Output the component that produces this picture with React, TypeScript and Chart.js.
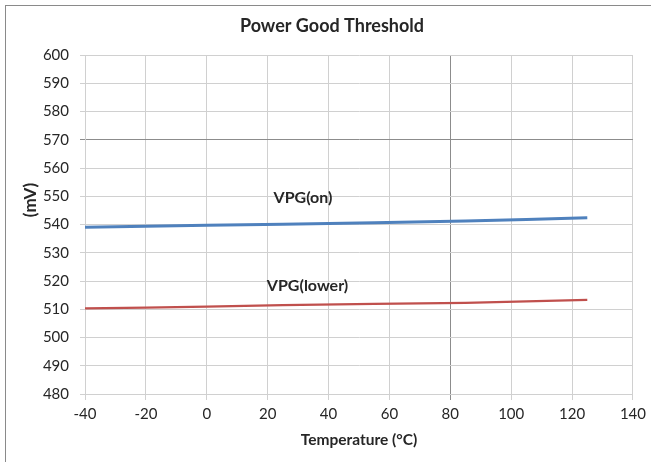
import React, { useEffect, useRef } from "react";
import { Chart, registerables } from "chart.js";

Chart.register(...registerables);

const temperatures = [-40, 0, 25, 85, 125];
const vpgOn = [539.0, 539.7, 540.1, 541.2, 542.4];
const vpgLower = [510.3, 510.9, 511.5, 512.3, 513.3];
const xTicks = [-40, -20, 0, 20, 40, 60, 80, 100, 120, 140];
const yTicks = [480, 490, 500, 510, 520, 530, 540, 550, 560, 570, 580, 590, 600];
const seriesLabels = [
  { text: "VPG(on)", x: 31.6, y: 549.6 },
  { text: "VPG(lower)", x: 33.1, y: 518.2 },
];
const chartTitle = "Power Good Threshold";
const yTitle = "(mV)";
const xTitle = "Temperature (°C)";

const FONT = "Lato, 'Open Sans', 'Liberation Sans', sans-serif";
const TEXT = "#262626";

export default function App() {
  const ref = useRef<HTMLCanvasElement | null>(null);

  useEffect(() => {
    if (!ref.current) return;
    const labelPlugin = {
      id: "seriesLabels",
      afterDraw(chart: any) {
        const { ctx, scales } = chart;
        ctx.save();
        ctx.fillStyle = TEXT;
        ctx.textAlign = "center";
        ctx.textBaseline = "middle";
        ctx.font = `bold 18px ${FONT}`;
        ctx.fillText(chartTitle, 332, 26);
        ctx.font = `bold 16px ${FONT}`;
        for (const l of seriesLabels) {
          ctx.fillText(l.text, scales.x.getPixelForValue(l.x), scales.y.getPixelForValue(l.y));
        }
        ctx.translate(31, 200);
        ctx.rotate(-Math.PI / 2);
        ctx.font = `bold 17px ${FONT}`;
        ctx.fillText(yTitle, 0, 0);
        ctx.restore();
      },
    };

    const chart = new Chart(ref.current, {
      type: "line",
      data: {
        datasets: [
          {
            label: "VPG(on)",
            data: temperatures.map((t, i) => ({ x: t, y: vpgOn[i] })),
            borderColor: "#4F81BD",
            borderWidth: 3,
            pointRadius: 0,
            tension: 0.3,
          },
          {
            label: "VPG(lower)",
            data: temperatures.map((t, i) => ({ x: t, y: vpgLower[i] })),
            borderColor: "#C0504D",
            borderWidth: 2.25,
            pointRadius: 0,
            tension: 0.3,
          },
        ],
      },
      plugins: [labelPlugin],
      options: {
        responsive: false,
        animation: false,
        devicePixelRatio: 1,
        layout: { padding: { left: 0, right: 18, top: 55, bottom: 0 } },
        plugins: {
          legend: { display: false },
          tooltip: { enabled: false },
          title: { display: false },
        },
        scales: {
          x: {
            type: "linear",
            min: xTicks[0],
            max: xTicks[xTicks.length - 1],
            afterBuildTicks: (s: any) => {
              s.ticks = xTicks.map((v) => ({ value: v }));
            },
            afterFit: (s: any) => {
              s.height = 68;
            },
            ticks: {
              color: TEXT,
              font: { family: FONT, size: 15 },
              padding: 5,
              maxRotation: 0,
              autoSkip: false,
            },
            grid: {
              color: (c: any) => (c.tick && c.tick.value === 80 ? "#8c8c8c" : "#d0d0d0"),
              tickLength: 6,
              lineWidth: 1,
            },
            border: { color: "#d0d0d0", width: 1 },
            title: {
              display: true,
              text: xTitle,
              color: TEXT,
              font: { family: FONT, size: 15.5, weight: "bold" },
              padding: { top: 0, bottom: 12.7 },
            },
          },
          y: {
            type: "linear",
            min: yTicks[0],
            max: yTicks[yTicks.length - 1],
            afterBuildTicks: (s: any) => {
              s.ticks = yTicks.map((v) => ({ value: v }));
            },
            afterFit: (s: any) => {
              s.width = 85;
            },
            ticks: {
              color: TEXT,
              font: { family: FONT, size: 15 },
              padding: 11,
              autoSkip: false,
            },
            grid: {
              color: (c: any) => (c.tick && c.tick.value === 570 ? "#8c8c8c" : "#d0d0d0"),
              tickLength: 5,
              lineWidth: 1,
            },
            border: { color: "#d0d0d0", width: 1 },
          },
        },
      },
    } as any);
    return () => chart.destroy();
  }, []);

  return (
    <div
      style={{
        position: "fixed",
        left: 0,
        top: 0,
        width: 651,
        height: 462,
        background: "#ffffff",
        overflow: "hidden",
      }}
    >
      <canvas ref={ref} width={651} height={462} style={{ position: "absolute", left: 0, top: 0 }} />
      <div
        style={{
          position: "absolute",
          left: 5,
          top: 5,
          width: 660,
          height: 470,
          borderLeft: "1px solid #8a8a8a",
          borderTop: "1px solid #8a8a8a",
          pointerEvents: "none",
        }}
      />
    </div>
  );
}
